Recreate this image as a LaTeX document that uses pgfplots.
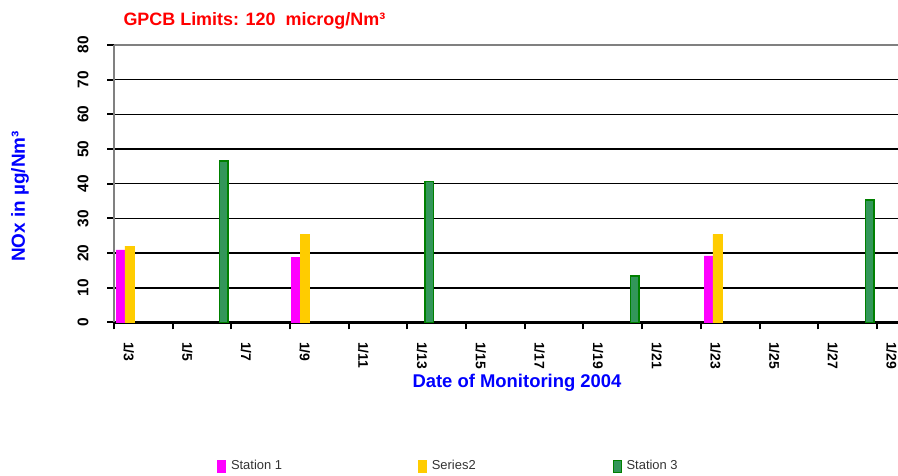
\documentclass[border=0pt]{standalone}
\usepackage{pgfplots}
\pgfplotsset{compat=1.18}
\usepackage{fontspec}
\setmainfont{Liberation Sans}
\definecolor{pinkS}{RGB}{255,0,255}
\definecolor{yellowS}{RGB}{255,204,0}
\definecolor{greenF}{RGB}{51,150,90}
\definecolor{greenD}{RGB}{0,128,0}
\definecolor{borderG}{RGB}{128,128,128}
\begin{document}
\begin{tikzpicture}[x=1bp,y=1bp]
\useasboundingbox (0,0) rectangle (898,476);
\begin{axis}[
  at={(114bp,153.5bp)}, anchor=south west,
  scale only axis, width=784bp, height=277.5bp,
  xmin=0, xmax=13.36, ymin=0, ymax=80,
  axis lines=left,
  x axis line style={black, line width=2.5bp, -},
  y axis line style={borderG, line width=2.5bp, -},
  tick align=outside,
  /pgf/number format/assume math mode=true,
  ytick={0,10,...,80},
  ymajorgrids,
  major grid style={black, line width=1.5bp},
  major tick length=7bp,
  tick style={black, line width=2bp},
  yticklabel style={rotate=90, anchor=south, font=\fontsize{15.5}{17}\selectfont\bfseries},
  yticklabel shift=15bp,
  xticklabel shift=16bp,
  xtick={0,1,...,13},
  xticklabels={},
  extra x ticks={0.25,1.25,...,13.25},
  extra x tick labels={1/3,1/5,1/7,1/9,1/11,1/13,1/15,1/17,1/19,1/21,1/23,1/25,1/27,1/29},
  extra x tick style={major tick length=0pt,
    xticklabel style={rotate=-90, anchor=west, font=\fontsize{14}{16}\selectfont\bfseries}},
  legend columns=3,
  legend cell align=left,
  legend style={at={(0.1314,-0.517)}, anchor=west, draw=none, fill=none, inner sep=0pt,
    font=\fontsize{13}{15}\selectfont, text=black!80,
    /tikz/every odd column/.append style={column sep=3bp}},
  legend image code/.code={\draw[#1, line width=0.8bp] (0bp,-6bp) rectangle (8bp,6bp);},
]
\addplot[ybar, bar width=9bp, fill=pinkS, draw=pinkS, line width=0.5bp]
  coordinates {(0.111,20.9) (3.10,18.8) (10.136,19.2)};
\addlegendentry{\makebox[185bp][l]{Station 1}}
\addplot[ybar, bar width=9bp, fill=yellowS, draw=yellowS, line width=0.5bp]
  coordinates {(0.264,22.0) (3.254,25.4) (10.281,25.4)};
\addlegendentry{\makebox[179bp][l]{Series2}}
\addplot[ybar, bar width=8.5bp, fill=greenF, draw=greenD, line width=1.5bp]
  coordinates {(1.874,46.6) (5.375,40.6) (8.876,13.4) (12.879,35.3)};
\addlegendentry{Station 3}
\draw[borderG, line width=2.5bp] (rel axis cs:0,1) -- (rel axis cs:1,1);
\end{axis}
\node[anchor=base west, text=red, font=\fontsize{18}{20}\selectfont\bfseries] at (120,450) {GPCB Limits: 120 \ microg/Nm³};
\node[rotate=90, text=blue, font=\fontsize{19}{21}\selectfont\bfseries] at (20,279.5) {NOx in µg/Nm³};
\node[text=blue, font=\fontsize{18.5}{20}\selectfont\bfseries] at (517,93) {Date of Monitoring 2004};
\end{tikzpicture}
\end{document}
